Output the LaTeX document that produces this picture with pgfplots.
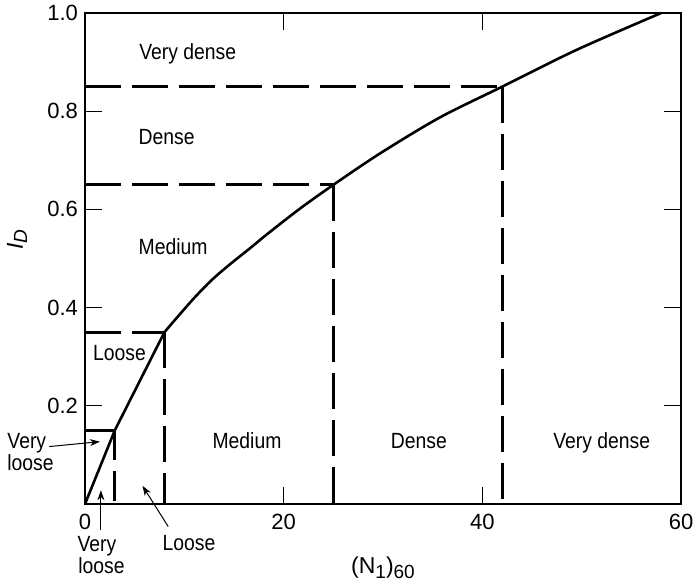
\documentclass[border=0pt]{standalone}
\usepackage{fontspec}
\setmainfont{Liberation Sans}[FakeStretch=0.88]
\newfontfamily\tickfont{Liberation Sans}
\usepackage{pgfplots}
\pgfplotsset{compat=1.18}
\usetikzlibrary{arrows.meta}
\newcommand{\sub}[1]{\raisebox{-0.35ex}{\fontsize{9.5}{10}\selectfont #1}}
\begin{document}
\begin{tikzpicture}[font=\fontsize{11}{13}\selectfont]
\begin{axis}[name=ax,
  scale only axis, width=298pt, height=245.5pt,
  xmin=0, xmax=60, ymin=0, ymax=1,
  xtick={0,20,40,60}, ytick={0.2,0.4,0.6,0.8,1.0},
  tick align=inside, tick pos=both, major tick length=8.5pt,
  axis line style={line width=0.7pt}, tick style={line width=0.6pt, black},
  /pgf/number format/assume math mode=true,
  yticklabel style={/pgf/number format/.cd, fixed, fixed zerofill, precision=1},
  every tick label/.append style={font=\tickfont\fontsize{11}{13}\selectfont},
  xticklabel style={yshift=-1.5pt},
  clip=false,
  every axis x label/.style={at={(axis description cs:0.5,-0.13)}, anchor=center},
  every axis y label/.style={at={(axis description cs:-0.114,0.538)}, anchor=center, rotate=90},
  xlabel={\tickfont\fontsize{11.5}{13}\selectfont(N\sub{1})\sub{60}},
  ylabel={\tickfont\fontsize{11.5}{13}\selectfont\textit{I}\sub{\textit{D}}},
]
% curve
\addplot[black, line width=1.3pt] coordinates {(0,0) (3,0.15) (8,0.35)};
\addplot[black, line width=1.3pt, smooth] coordinates {
(8,0.35) (9.7,0.39) (11.1,0.422) (12.75,0.456) (14.4,0.485) (16.8,0.524) (18.3,0.549) (21.6,0.601) (25,0.65)
(29.7,0.714) (35.7,0.787) (42,0.85) (49.5,0.925) (58,1.0)};
% boundaries
\addplot[black, line width=1.5pt] coordinates {(0,0.15) (3,0.15)};
\addplot[black, line width=1.5pt, dash pattern=on 15pt off 5.5pt] coordinates {(3,0.15) (3,0)};
\addplot[black, line width=1.5pt, dash pattern=on 18pt off 5.5pt] coordinates {(0,0.35) (8,0.35)};
\addplot[black, line width=1.5pt, dash pattern=on 18pt off 5.5pt] coordinates {(8,0.35) (8,0)};
\addplot[black, line width=1.5pt, dash pattern=on 18pt off 5.5pt] coordinates {(0,0.65) (25,0.65)};
\addplot[black, line width=1.5pt, dash pattern=on 18pt off 5.5pt] coordinates {(25,0.65) (25,0)};
\addplot[black, line width=1.5pt, dash pattern=on 18pt off 5.5pt] coordinates {(0,0.85) (42,0.85)};
\addplot[black, line width=1.5pt, dash pattern=on 18pt off 5.5pt] coordinates {(42,0.85) (42,0)};
% labels
\node[anchor=base west, inner sep=0] at (axis cs:5.43,0.906) {Very dense};
\node[anchor=base west, inner sep=0] at (axis cs:5.36,0.733) {Dense};
\node[anchor=base west, inner sep=0] at (axis cs:5.36,0.509) {Medium};
\node[anchor=base west, inner sep=0] at (axis cs:0.77,0.293) {Loose};
\node[anchor=base west, inner sep=0] at (axis cs:12.8,0.113) {Medium};
\node[anchor=base west, inner sep=0] at (axis cs:30.75,0.113) {Dense};
\node[anchor=base west, inner sep=0] at (axis cs:47.1,0.113) {Very dense};
\node[anchor=base west, inner sep=0] at (axis cs:-7.85,0.114) {Very};
\node[anchor=base west, inner sep=0] at (axis cs:-7.85,0.068) {loose};
\node[anchor=base, inner sep=0] at (axis cs:1.2,-0.097) {Very};
\node[anchor=base, inner sep=0] at (axis cs:1.66,-0.141) {loose};
\node[anchor=base, inner sep=0] at (axis cs:10.46,-0.094) {Loose};
% arrows
\draw[line width=0.5pt, -{Stealth[length=5pt,width=3.5pt]}] (axis cs:-3.6,0.117) -- (axis cs:1.5,0.127);
\draw[line width=0.5pt, -{Stealth[length=5pt,width=3.5pt]}] (axis cs:1.6,-0.053) -- (axis cs:1.6,0.028);
\draw[line width=0.5pt, -{Stealth[length=5pt,width=3.5pt]}] (axis cs:8.38,-0.046) -- (axis cs:5.79,0.037);
\end{axis}
\pgfresetboundingbox
\path ([xshift=-42.5pt,yshift=-40pt]ax.south west) rectangle ([xshift=6pt,yshift=6.5pt]ax.north east);
\end{tikzpicture}
\end{document}
